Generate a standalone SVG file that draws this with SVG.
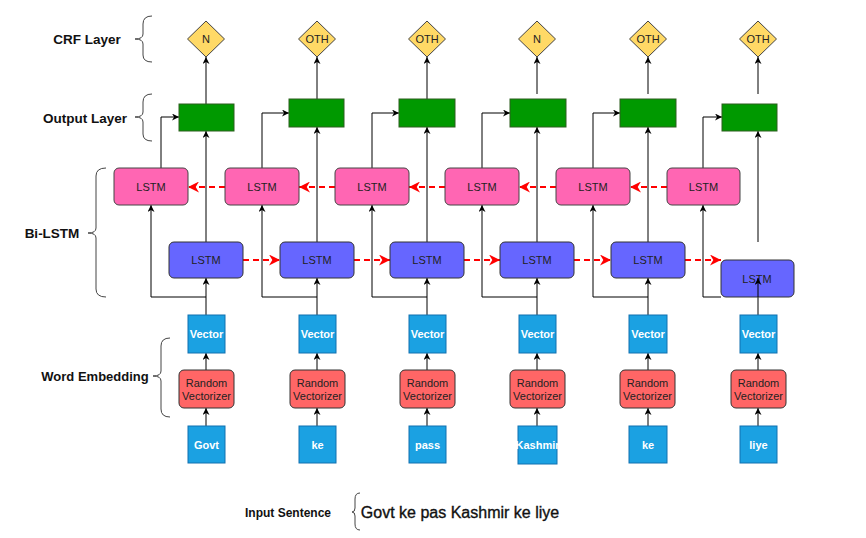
<svg xmlns="http://www.w3.org/2000/svg" width="866" height="538" viewBox="0 0 866 538">
<defs>
<marker id="ab" viewBox="0 0 10 10" refX="10" refY="5" markerWidth="7" markerHeight="7" orient="auto" markerUnits="userSpaceOnUse"><path d="M0,0 L10,5 L0,10 L3,5 z" fill="#000"/></marker>
<marker id="ar" viewBox="0 0 10 10" refX="10" refY="5" markerWidth="11" markerHeight="11" orient="auto" markerUnits="userSpaceOnUse"><path d="M0,0 L10,5 L0,10 L3,5 z" fill="#f00"/></marker>
<style>
text{font-family:"Liberation Sans",Arial,sans-serif;text-anchor:middle;dominant-baseline:central}
.lbl{font-weight:bold;font-size:13px;fill:#111}
.dia{fill:#FFD966;stroke:#444;stroke-width:1}
.grn{fill:#009900;stroke:#2D5F1E;stroke-width:1}
.pink{fill:#FF66B3;stroke:#444;stroke-width:1}
.blue{fill:#6666FF;stroke:#333;stroke-width:1}
.vec{fill:#1BA1E2;stroke:#1170B0;stroke-width:1}
.rv{fill:#FF6666;stroke:#333;stroke-width:1}
.t11{font-size:11px;fill:#222}
.wt{font-size:11px;fill:#fff;font-weight:bold}
.c{fill:none;stroke:#000;stroke-width:1;marker-end:url(#ab)}
.l{fill:none;stroke:#000;stroke-width:1}
.d{fill:none;stroke:#f00;stroke-width:2;stroke-dasharray:6,4;marker-end:url(#ar)}
.br{fill:none;stroke:#444;stroke-width:1}
</style>
</defs>
<g id="labels">
<text class="lbl" x="87" y="39" style="font-size:13.5px">CRF Layer</text>
<text class="lbl" x="85" y="118" style="font-size:13.5px">Output Layer</text>
<text class="lbl" x="52" y="233" style="font-size:13.5px">Bi-LSTM</text>
<text class="lbl" x="95" y="376">Word Embedding</text>
<text x="288" y="513" style="font-weight:bold;font-size:12px;fill:#111">Input Sentence</text>
<text x="460" y="512" style="font-size:16px;fill:#111;stroke:#111;stroke-width:0.35">Govt ke pas Kashmir ke liye</text>
<path class="br" d="M152,16 Q143,16 143,24 L143,34 Q143,39 135,39 Q143,39 143,44 L143,55 Q143,62 152,62"/>
<path class="br" d="M152,94 Q143,94 143,102 L143,112 Q143,117 135,117 Q143,117 143,122 L143,134 Q143,141 152,141"/>
<path class="br" d="M106,168 Q96,168 96,176 L96,228 Q96,233 88,233 Q96,233 96,238 L96,289 Q96,297 106,297"/>
<path class="br" d="M170,338 Q161,338 161,346 L161,371 Q161,376 153,376 Q161,376 161,381 L161,409 Q161,417 170,417"/>
<path class="br" d="M360,493 Q355,493 355,499 L355,508 Q355,512 352,512 Q355,512 355,516 L355,524 Q355,530 360,530"/>
</g>
<g id="connectors">
<path class="c" d="M206,104 V57"/>
<path class="c" d="M317,99 V57"/>
<path class="c" d="M427,99 V57"/>
<path class="c" d="M537,94 V57"/>
<path class="c" d="M648,94 V57"/>
<path class="c" d="M758,94 V57"/>
<path class="c" d="M161,168 V117 H179"/>
<path class="c" d="M262,168 V113 H289"/>
<path class="c" d="M372,168 V113 H399"/>
<path class="c" d="M482,168 V113 H510"/>
<path class="c" d="M593,168 V113 H620"/>
<path class="c" d="M703,168 V117 H722"/>
<path class="c" d="M206,242 V131"/>
<path class="c" d="M317,242 V127"/>
<path class="c" d="M427,242 V127"/>
<path class="c" d="M537,242 V127"/>
<path class="c" d="M648,242 V127"/>
<path class="c" d="M758,242 V131"/>
<path class="c" d="M206,315 V278"/>
<path class="c" d="M317,315 V278"/>
<path class="c" d="M427,315 V278"/>
<path class="c" d="M537,315 V278"/>
<path class="c" d="M648,315 V278"/>
<path class="c" d="M758,315 V278"/>
<path class="c" d="M206,297 H151 V205"/>
<path class="c" d="M317,297 H262 V205"/>
<path class="c" d="M427,297 H372 V205"/>
<path class="c" d="M537,297 H482 V205"/>
<path class="c" d="M648,297 H593 V205"/>
<path class="c" d="M721,297 H703 V205"/>
<path class="c" d="M206,370 V353"/>
<path class="c" d="M317,370 V353"/>
<path class="c" d="M427,370 V353"/>
<path class="c" d="M537,370 V353"/>
<path class="c" d="M648,370 V353"/>
<path class="c" d="M758,370 V353"/>
<path class="c" d="M206,426 V408"/>
<path class="c" d="M317,426 V408"/>
<path class="c" d="M427,426 V408"/>
<path class="c" d="M537,426 V408"/>
<path class="c" d="M648,426 V408"/>
<path class="c" d="M758,426 V408"/>
<path class="d" d="M243,260 H280"/>
<path class="d" d="M354,260 H390"/>
<path class="d" d="M464,260 H500"/>
<path class="d" d="M574,260 H611"/>
<path class="d" d="M685,260 H721"/>
<path class="d" d="M225,187 H188"/>
<path class="d" d="M335,187 H299"/>
<path class="d" d="M445,187 H409"/>
<path class="d" d="M556,187 H519"/>
<path class="d" d="M667,187 H630"/>
</g>
<g id="crf1"><path class="dia" d="M206,21 L224.5,39 L206,57 L187.5,39 z"/><text class="t11" x="206" y="39">N</text></g>
<g id="crf2"><path class="dia" d="M317,21 L335.5,39 L317,57 L298.5,39 z"/><text class="t11" x="317" y="39">OTH</text></g>
<g id="crf3"><path class="dia" d="M427,21 L445.5,39 L427,57 L408.5,39 z"/><text class="t11" x="427" y="39">OTH</text></g>
<g id="crf4"><path class="dia" d="M537,21 L555.5,39 L537,57 L518.5,39 z"/><text class="t11" x="537" y="39">N</text></g>
<g id="crf5"><path class="dia" d="M648,21 L666.5,39 L648,57 L629.5,39 z"/><text class="t11" x="648" y="39">OTH</text></g>
<g id="crf6"><path class="dia" d="M758,21 L776.5,39 L758,57 L739.5,39 z"/><text class="t11" x="758" y="39">OTH</text></g>
<g id="out1"><rect class="grn" x="179" y="104" width="55" height="27"/></g>
<g id="out2"><rect class="grn" x="289" y="99" width="55" height="28"/></g>
<g id="out3"><rect class="grn" x="399" y="99" width="56" height="28"/></g>
<g id="out4"><rect class="grn" x="510" y="99" width="56" height="28"/></g>
<g id="out5"><rect class="grn" x="620" y="99" width="56" height="28"/></g>
<g id="out6"><rect class="grn" x="722" y="104" width="55" height="27"/></g>
<g id="bw1"><rect class="pink" x="114" y="168" width="74" height="37" rx="5"/><text class="t11" x="151" y="186.5">LSTM</text></g>
<g id="bw2"><rect class="pink" x="225" y="168" width="74" height="37" rx="5"/><text class="t11" x="262" y="186.5">LSTM</text></g>
<g id="bw3"><rect class="pink" x="335" y="168" width="74" height="37" rx="5"/><text class="t11" x="372" y="186.5">LSTM</text></g>
<g id="bw4"><rect class="pink" x="445" y="168" width="74" height="37" rx="5"/><text class="t11" x="482" y="186.5">LSTM</text></g>
<g id="bw5"><rect class="pink" x="556" y="168" width="74" height="37" rx="5"/><text class="t11" x="593" y="186.5">LSTM</text></g>
<g id="bw6"><rect class="pink" x="667" y="168" width="73" height="37" rx="5"/><text class="t11" x="703.5" y="186.5">LSTM</text></g>
<g id="fw1"><rect class="blue" x="169" y="242" width="74" height="36" rx="5"/><text class="t11" x="206" y="260">LSTM</text></g>
<g id="fw2"><rect class="blue" x="280" y="242" width="74" height="36" rx="5"/><text class="t11" x="317" y="260">LSTM</text></g>
<g id="fw3"><rect class="blue" x="390" y="242" width="74" height="36" rx="5"/><text class="t11" x="427" y="260">LSTM</text></g>
<g id="fw4"><rect class="blue" x="500" y="242" width="74" height="36" rx="5"/><text class="t11" x="537" y="260">LSTM</text></g>
<g id="fw5"><rect class="blue" x="611" y="242" width="74" height="36" rx="5"/><text class="t11" x="648" y="260">LSTM</text></g>
<g id="fw6"><rect class="blue" x="721" y="260" width="73" height="37" rx="5"/><text class="t11" x="757" y="279">LSTM</text><path class="c" d="M758,297 V278"/></g>
<g id="vec1"><rect class="vec" x="188" y="315" width="37" height="38"/><text class="wt" x="206.5" y="334">Vector</text></g>
<g id="vec2"><rect class="vec" x="299" y="315" width="37" height="38"/><text class="wt" x="317.5" y="334">Vector</text></g>
<g id="vec3"><rect class="vec" x="409" y="315" width="37" height="38"/><text class="wt" x="427.5" y="334">Vector</text></g>
<g id="vec4"><rect class="vec" x="519" y="315" width="37" height="38"/><text class="wt" x="537.5" y="334">Vector</text></g>
<g id="vec5"><rect class="vec" x="629" y="315" width="38" height="38"/><text class="wt" x="648" y="334">Vector</text></g>
<g id="vec6"><rect class="vec" x="740" y="315" width="37" height="38"/><text class="wt" x="758.5" y="334">Vector</text></g>
<g id="rv1"><rect class="rv" x="179" y="370" width="55" height="38" rx="5"/><text class="t11" x="206.5" y="383">Random</text><text class="t11" x="206.5" y="396">Vectorizer</text></g>
<g id="rv2"><rect class="rv" x="290" y="370" width="55" height="38" rx="5"/><text class="t11" x="317.5" y="383">Random</text><text class="t11" x="317.5" y="396">Vectorizer</text></g>
<g id="rv3"><rect class="rv" x="400" y="370" width="55" height="38" rx="5"/><text class="t11" x="427.5" y="383">Random</text><text class="t11" x="427.5" y="396">Vectorizer</text></g>
<g id="rv4"><rect class="rv" x="510" y="370" width="55" height="38" rx="5"/><text class="t11" x="537.5" y="383">Random</text><text class="t11" x="537.5" y="396">Vectorizer</text></g>
<g id="rv5"><rect class="rv" x="620" y="370" width="55" height="38" rx="5"/><text class="t11" x="647.5" y="383">Random</text><text class="t11" x="647.5" y="396">Vectorizer</text></g>
<g id="rv6"><rect class="rv" x="731" y="370" width="55" height="38" rx="5"/><text class="t11" x="758.5" y="383">Random</text><text class="t11" x="758.5" y="396">Vectorizer</text></g>
<g id="w1"><rect class="vec" x="188" y="426" width="37" height="37"/><text class="wt" x="206.5" y="444.5">Govt</text></g>
<g id="w2"><rect class="vec" x="299" y="426" width="37" height="37"/><text class="wt" x="317.5" y="444.5">ke</text></g>
<g id="w3"><rect class="vec" x="409" y="426" width="37" height="37"/><text class="wt" x="427.5" y="444.5">pass</text></g>
<g id="w4"><rect class="vec" x="518" y="426" width="39" height="38"/><text class="wt" x="537.5" y="445">Kashmir</text></g>
<g id="w5"><rect class="vec" x="629" y="426" width="38" height="37"/><text class="wt" x="648" y="444.5">ke</text></g>
<g id="w6"><rect class="vec" x="740" y="426" width="37" height="37"/><text class="wt" x="758.5" y="444.5">liye</text></g>
</svg>
